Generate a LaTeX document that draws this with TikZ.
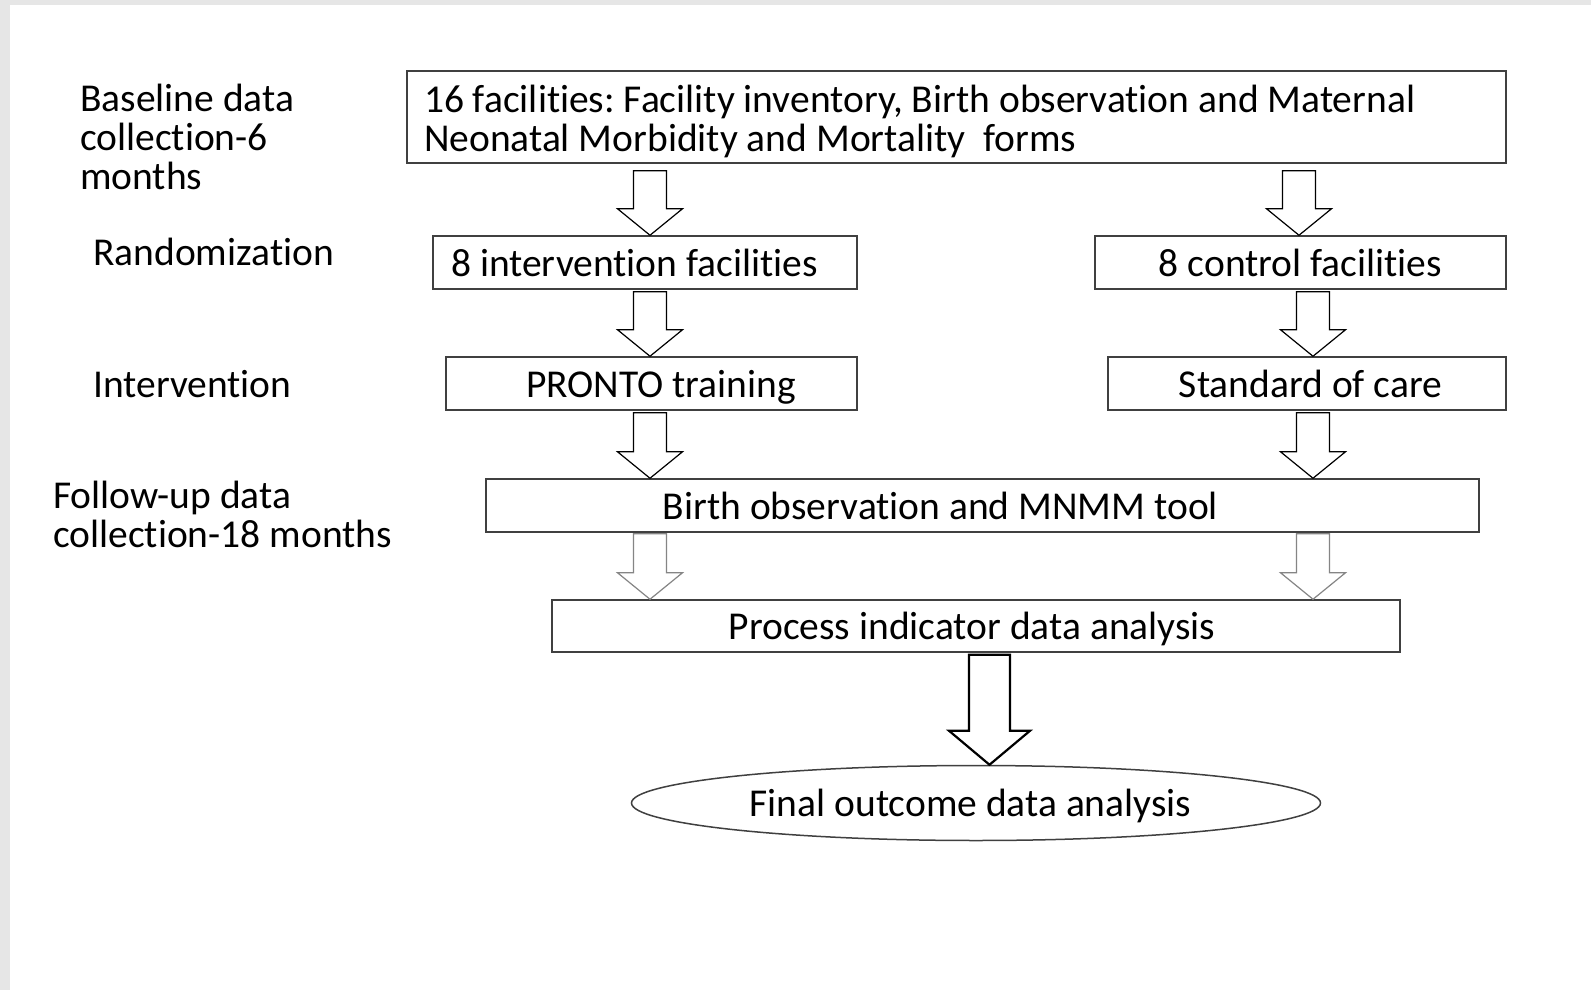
\documentclass[tikz,border=0pt]{standalone}
\usepackage{fontspec}
\setmainfont{Carlito}[Ligatures={NoCommon}]
\usetikzlibrary{calc,shapes.geometric}
\definecolor{boxgray}{HTML}{404040}
\definecolor{arrowgray}{HTML}{858585}
\definecolor{bggray}{HTML}{E6E6E6}
\frenchspacing
% #1 style, #2 start, #3 tip, #4 shaft half width, #5 head half width, #6 head length
\newcommand\blockarr[6]{%
  \draw[#1] let \p1=(#2), \p2=(#3) in
    (\x1-#4pt,\y1) -- (\x1+#4pt,\y1) -- (\x1+#4pt,\y2+#6pt) -- (\x1+#5pt,\y2+#6pt)
    -- (\x1,\y2) -- (\x1-#5pt,\y2+#6pt) -- (\x1-#4pt,\y2+#6pt) -- cycle;}
\begin{document}
\begin{tikzpicture}[x=1pt,y=-1pt,
  every node/.style={font=\fontsize{39.5}{39}\selectfont\frenchspacing},
  box/.style={draw=boxgray, line width=1.5pt, minimum height=53pt, inner sep=0pt,
    text height=34pt, text depth=7pt},
  lbl/.style={anchor=base west, align=left, inner sep=0pt},
  arr/.style={draw=black, line width=1.2pt, fill=white},
  arrlight/.style={draw=arrowgray, line width=1.2pt, fill=white},
  arrbig/.style={draw=black, line width=2.2pt, fill=white},
]
\fill[bggray] (0,0) rectangle (1591,990);
\fill[white] (10,5) rectangle (1591,990);
\useasboundingbox (0,0) rectangle (1591,990);

% columns
\coordinate (cL) at (650,0);
\coordinate (cR1) at (1299,0);
\coordinate (cR) at (1313,0);
\coordinate (cM) at (989.5,0);

% left labels
\node[lbl] (l1) at (80,189) {Baseline data\\collection-6\\months};
\node[lbl] (l2) at (93,265) {Randomization};
\node[lbl] (l3) at (93,397) {Intervention};
\node[lbl] (l4) at (53,547) {Follow-up data\\collection-18 months};

% boxes
\node[draw=boxgray, line width=1.5pt, text width=1065pt, align=flush left, minimum height=92pt,
  inner xsep=17pt, inner ysep=0pt, text depth=37pt] (top) at (956.5,117)
  {16 facilities: Facility inventory, Birth observation and Maternal\\Neonatal Morbidity and Mortality~ forms};
\node[box, minimum width=424pt] (interv) at (645,262.5) {8 intervention facilities\hspace*{21pt}};
\node[box, minimum width=411pt] (control) at (1300.5,262.5) {8 control facilities};
\node[box, minimum width=411pt] (pronto) at (651.5,383.5) {\hspace*{19pt}PRONTO training};
\node[box, minimum width=398pt] (soc) at (1307,383.5) {\hspace*{7pt}Standard of care};
\node[box, minimum width=993pt] (birth) at (982.5,505.5) {Birth observation and MNMM tool\hspace*{84pt}};
\node[box, minimum width=848pt, minimum height=52pt] (process) at (976,626) {Process indicator data analysis\hspace*{8pt}};
\node[draw=boxgray, line width=1.5pt, ellipse, minimum width=689pt, minimum height=75pt, inner sep=0pt,
  text height=34pt, text depth=7pt] (final) at (976,803) {Final outcome data analysis\hspace*{11pt}};

% block arrows
\blockarr{arr}{$(top.south -| cL)+(0,7)$}{interv.north -| cL}{16.5}{32.5}{26.5}
\blockarr{arr}{$(top.south -| cR1)+(0,7)$}{control.north -| cR1}{16.5}{32.5}{26.5}
\blockarr{arr}{$(interv.south -| cL)+(0,2)$}{pronto.north -| cL}{16.5}{32.5}{26.5}
\blockarr{arr}{$(control.south -| cR)+(0,2)$}{soc.north -| cR}{16.5}{32.5}{26.5}
\blockarr{arr}{$(pronto.south -| cL)+(0,2)$}{birth.north -| cL}{16.5}{32.5}{26.5}
\blockarr{arr}{$(soc.south -| cR)+(0,2)$}{birth.north -| cR}{16.5}{32.5}{26.5}
\blockarr{arrlight}{$(birth.south -| cL)+(0,1)$}{process.north -| cL}{16.5}{32.5}{26.5}
\blockarr{arrlight}{$(birth.south -| cR)+(0,1)$}{process.north -| cR}{16.5}{32.5}{26.5}
\blockarr{arrbig}{$(process.south -| cM)+(0,2)$}{final.north -| cM}{20.5}{40.5}{34}
\end{tikzpicture}
\end{document}
